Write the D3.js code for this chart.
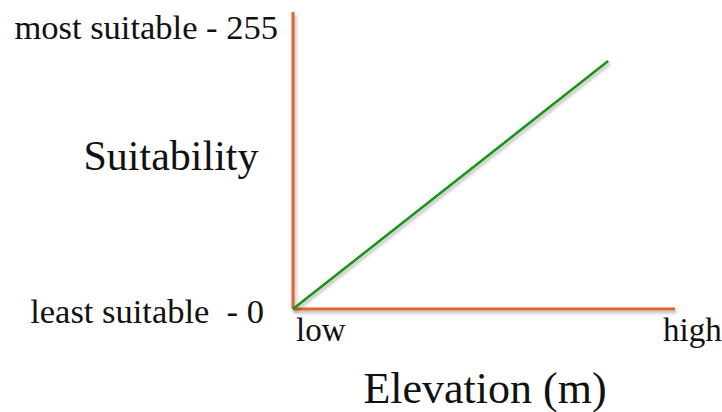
<!DOCTYPE html>
<html>
<head>
<meta charset="utf-8">
<script src="https://cdn.jsdelivr.net/npm/d3@7"></script>
<style>
  html, body { margin: 0; padding: 0; background: #fff; }
  svg text { font-family: "Liberation Serif", "Times New Roman", serif; fill: #111; white-space: pre; }
</style>
</head>
<body>
<svg id="chart" width="722" height="412"></svg>
<script>
// values
const yLabels = ["least suitable  - 0", "most suitable - 255"];
const yValues = [0, 255];
const xLabels = ["low", "high"];
const xValues = [0, 100];
const elevation = [0, 82.5];
const suitability = [0, 225];

const width = 722, height = 412;

let x = d3.scaleLinear().domain([0, 100]).range([293, 675]);
let y = d3.scaleLinear().domain([0, 255]).range([309, 28]);

let svg = d3.select("#chart");

// soft drop shadow on the lines
let defs = svg.append("defs");
defs.append("filter")
  .attr("id", "shadow")
  .attr("x", "-10%").attr("y", "-10%")
  .attr("width", "120%").attr("height", "120%")
  .append("feDropShadow")
  .attr("dx", 1.5).attr("dy", 2.5)
  .attr("stdDeviation", 1.5)
  .attr("flood-color", "#000")
  .attr("flood-opacity", 0.3);

// orange axes
let axes = svg.append("g").attr("filter", "url(#shadow)");
axes.append("line") // y axis
  .attr("x1", x(0)).attr("x2", x(0))
  .attr("y1", y(0)).attr("y2", y(255) - 16)
  .style("stroke", "#E2662C")
  .style("stroke-width", 3);
axes.append("line") // x axis
  .attr("x1", x(0)).attr("x2", x(100))
  .attr("y1", y(0)).attr("y2", y(0))
  .style("stroke", "#E2662C")
  .style("stroke-width", 3);

// green suitability line
let pts = elevation.map((e, i) => [e, suitability[i]]);
svg.append("path")
  .datum(pts)
  .attr("filter", "url(#shadow)")
  .attr("d", d3.line().x(d => x(d[0])).y(d => y(d[1])))
  .attr("fill", "none")
  .style("stroke", "#159415")
  .style("stroke-width", 2.5);

// y end labels
svg.selectAll(".ylab")
  .data(yValues)
  .enter().append("text")
  .attr("class", "ylab")
  .attr("x", (d, i) => i === 0 ? x(0) - 29 : x(0) - 15)
  .attr("y", (d, i) => i === 0 ? y(d) + 14 : y(d) + 11)
  .attr("text-anchor", "end")
  .style("font-size", "34.5px")
  .text((d, i) => yLabels[i]);

// x end labels
svg.selectAll(".xlab")
  .data(xValues)
  .enter().append("text")
  .attr("class", "xlab")
  .attr("x", (d, i) => i === 0 ? x(d) + 3 : x(d) - 12)
  .attr("y", y(0) + 32)
  .style("font-size", "33px")
  .text((d, i) => xLabels[i]);

// axis titles
svg.append("text")
  .attr("x", 171)
  .attr("y", 170)
  .attr("text-anchor", "middle")
  .style("font-size", "42px")
  .text("Suitability");

svg.append("text")
  .attr("x", 485)
  .attr("y", 403)
  .attr("text-anchor", "middle")
  .style("font-size", "44px")
  .text("Elevation (m)");
</script>
</body>
</html>
